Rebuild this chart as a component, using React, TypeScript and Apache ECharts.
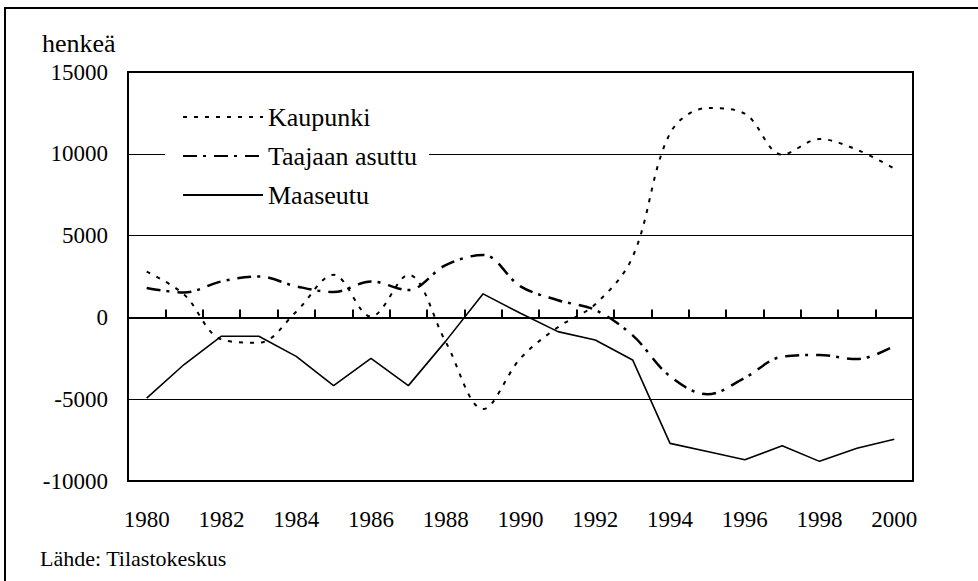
import React, { useEffect, useRef } from "react";
import * as echarts from "echarts";

const years = ["1980","1981","1982","1983","1984","1985","1986","1987","1988","1989","1990","1991","1992","1993","1994","1995","1996","1997","1998","1999","2000"];
const kaupunki = [2800, 1400, -1350, -1550, 350, 2600, 50, 2600, -1500, -5600, -2500, -600, 800, 3700, 11250, 12800, 12450, 9950, 10900, 10250, 9100];
const taajaan = [1800, 1520, 2200, 2500, 1900, 1550, 2200, 1670, 3200, 3820, 1900, 1050, 450, -1100, -3600, -4700, -3700, -2400, -2300, -2550, -1750];
const maaseutu = [-4940, -2880, -1150, -1150, -2380, -4170, -2500, -4170, -1450, 1440, 250, -870, -1380, -2600, -7700, -8200, -8700, -7850, -8800, -8000, -7450];
const seriesNames = ["Kaupunki", "Taajaan asuttu", "Maaseutu"];

const FONT = "Liberation Serif, Times New Roman, serif";

export default function App() {
  const ref = useRef<HTMLDivElement>(null);
  useEffect(() => {
    if (!ref.current) return;
    const chart = echarts.init(ref.current, undefined, { renderer: "svg" });
    chart.setOption({
      animation: false,
      backgroundColor: "#fff",
      textStyle: { fontFamily: FONT, color: "#000" },
      grid: {
        left: 128, right: 65, top: 72, bottom: 100,
        show: true, borderColor: "#000", borderWidth: 2, backgroundColor: "transparent",
      },
      legend: {
        orient: "vertical",
        left: 165, top: 96,
        padding: [8, 12, 8, 17],
        backgroundColor: "#fff",
        itemWidth: 80, itemHeight: 14, itemGap: 13,
        textStyle: { fontFamily: FONT, fontSize: 26, color: "#000" },
        itemStyle: { opacity: 0, borderWidth: 0 },
        data: seriesNames,
      },
      xAxis: [
        {
          type: "category", data: years, boundaryGap: true,
          axisLine: { onZero: true, lineStyle: { color: "#000", width: 2 } },
          axisTick: { show: true, inside: true, length: 8, lineStyle: { color: "#000", width: 2 } },
          axisLabel: { show: false },
          splitLine: { show: false },
        },
        {
          type: "category", data: years, boundaryGap: true, position: "bottom",
          axisLine: { show: false, onZero: false },
          axisTick: { show: false },
          axisLabel: { interval: 1, fontFamily: FONT, fontSize: 23, color: "#000", margin: 27 },
          splitLine: { show: false },
        },
      ],
      yAxis: {
        type: "value", min: -10000, max: 15000, interval: 5000,
        axisLine: { show: false },
        axisTick: { show: false },
        axisLabel: { fontFamily: FONT, fontSize: 23, color: "#000", margin: 20, formatter: (v: number) => String(v) },
        splitLine: { show: true, lineStyle: { color: "#000", width: 1 } },
      },
      graphic: [
        { type: "rect", silent: true, shape: { x: 5, y: 8, width: 1200, height: 1000 }, style: { fill: "none", stroke: "#000", lineWidth: 2 } },
        { type: "text", left: 42, top: 30, style: { text: "henkeä", font: `26px ${FONT}`, fill: "#000" } },
        { type: "text", left: 40, top: 547, style: { text: "Lähde: Tilastokeskus", font: `22px ${FONT}`, fill: "#000" } },
      ],
      series: [
        {
          name: seriesNames[0], type: "line", data: kaupunki, xAxisIndex: 0, symbol: "none", smooth: 0.35,
          lineStyle: { color: "#000", width: 2, type: [4, 7] },
        },
        {
          name: seriesNames[1], type: "line", data: taajaan, xAxisIndex: 0, symbol: "none", smooth: 0.35,
          lineStyle: { color: "#000", width: 2.5, type: [14, 6, 3, 8] },
        },
        {
          name: seriesNames[2], type: "line", data: maaseutu, xAxisIndex: 0, symbol: "none", smooth: false,
          lineStyle: { color: "#000", width: 1.6, type: "solid" },
        },
      ],
    });
    return () => chart.dispose();
  }, []);
  return <div ref={ref} style={{ position: "absolute", left: 0, top: 0, width: 978, height: 581 }} />;
}
